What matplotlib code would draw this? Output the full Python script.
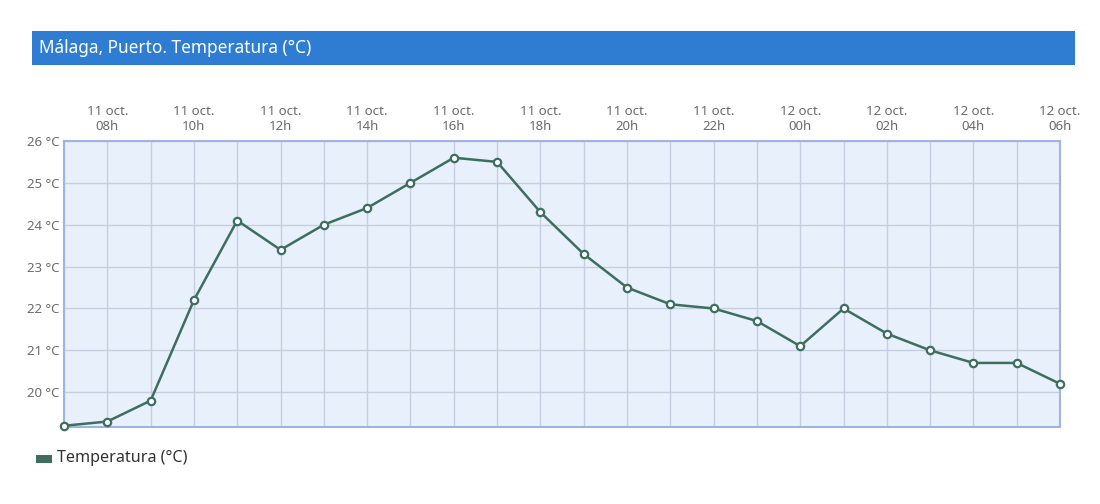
import matplotlib
matplotlib.use("Agg")
import matplotlib.pyplot as plt
from matplotlib.patches import Rectangle

plt.rcParams["font.family"] = ["Noto Sans", "DejaVu Sans"]

# hourly readings, 11 oct. 07h -> 12 oct. 06h
hours = ["07h", "08h", "09h", "10h", "11h", "12h", "13h", "14h", "15h", "16h",
         "17h", "18h", "19h", "20h", "21h", "22h", "23h", "00h", "01h", "02h",
         "03h", "04h", "05h", "06h"]
days = ["11 oct."] * 17 + ["12 oct."] * 7
temps = [19.2, 19.3, 19.8, 22.2, 24.1, 23.4, 24.0, 24.4, 25.0, 25.6,
         25.5, 24.3, 23.3, 22.5, 22.1, 22.0, 21.7, 21.1, 22.0, 21.4,
         21.0, 20.7, 20.7, 20.2]
y_ticks = [20, 21, 22, 23, 24, 25, 26]

LINE = "#3d6e5f"
GRID = "#c5cfdf"
BORDER = "#9db5e0"
TEXT = "#6b6b6b"

fig = plt.figure(figsize=(11, 5.04), dpi=100)

# title bar
fig.patches.append(Rectangle((0.0291, 0.871), 0.9482, 0.0675, transform=fig.transFigure,
                             facecolor="#2e7dd3", edgecolor="none"))
fig.text(0.035, 0.905, "Málaga, Puerto. Temperatura (°C)", color="white",
         fontsize=12.4, va="center", ha="left")

ax = fig.add_axes([0.0582, 0.1528, 0.9055, 0.5675])
ax.set_facecolor("#e8f0fb")
x = list(range(len(temps)))
ax.plot(x, temps, color=LINE, lw=1.8, zorder=3, clip_on=False)
ax.scatter(x, temps, s=28, facecolor="white", edgecolor=LINE, linewidth=1.6,
           zorder=4, clip_on=False)

ax.set_xlim(0, len(temps) - 1)
ax.set_ylim(19.17, 26)
ax.set_xticks(x, minor=True)
tick_idx = x[1::2]
ax.set_xticks(tick_idx)
ax.set_xticklabels([f"{days[i]}\n{hours[i]}" for i in tick_idx])
ax.xaxis.tick_top()
ax.set_yticks(y_ticks)
ax.set_yticklabels([f"{v} °C" for v in y_ticks])
ax.tick_params(axis="both", which="both", length=0, colors=TEXT, labelsize=9.5)
ax.tick_params(axis="x", pad=6)
ax.tick_params(axis="y", pad=3)
ax.grid(True, which="both", axis="x", color=GRID, lw=1)
ax.grid(True, which="major", axis="y", color=GRID, lw=1)
for s in ax.spines.values():
    s.set_color(BORDER)
    s.set_linewidth(1.5)
    s.set_zorder(2)

# legend
fig.patches.append(Rectangle((0.0327, 0.0814), 0.0145, 0.0159, transform=fig.transFigure,
                             facecolor=LINE, edgecolor="none"))
fig.text(0.052, 0.091, "Temperatura (°C)", color="#333333", fontsize=11.6, va="center", ha="left")

fig.savefig("out.png", dpi=100)
